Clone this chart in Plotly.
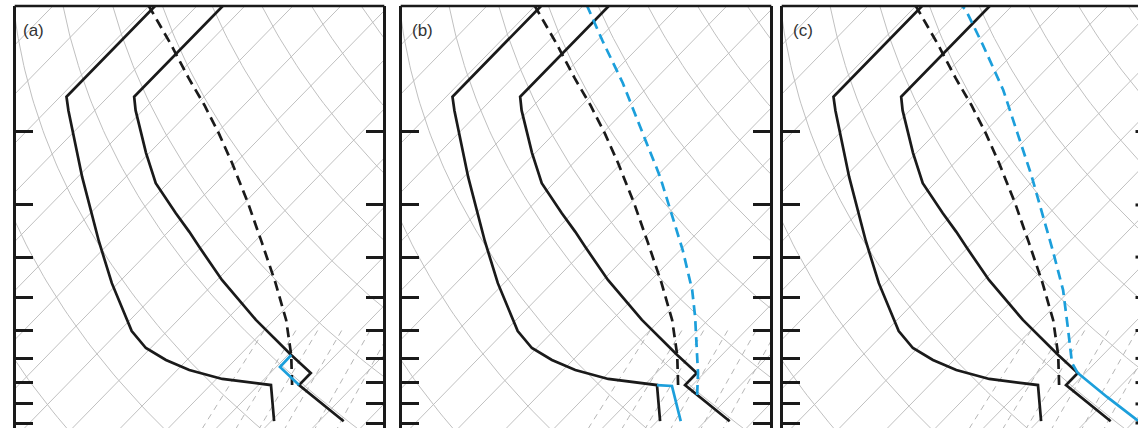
import numpy as np
import plotly.graph_objects as go

W, H = 1138, 428
SKEW = 36.86          # skew of isotherms, degC per unit ln(p)
P_TOP, P_BOT = 100.0, 1028.0

# ---------------- data ----------------
# environmental temperature (all panels)
P_TMP = [990, 811, 759, 687, 566, 454, 378, 348, 314, 266, 225, 178, 165, 100]
T_TMP = [25.1, 8.45, 8.45, 0.7, -13.8, -29.0, -40.5, -45.6, -52.2, -62.5, -70.7, -81.5, -84.6, -84.6]
# environmental dewpoint (all panels)
P_DEW = [990, 811, 784, 746, 706, 661, 602, 560, 462, 366, 257, 178, 165, 100]
T_DEW = [10.6, 2.6, -8.8, -17.5, -24.4, -31.0, -37.4, -41.2, -51.3, -62.6, -79.1, -95.5, -98.7, -98.7]
# original parcel (black dashed)
P_PCL = [811, 687, 566, 459, 370, 297, 238, 202, 173, 149, 124, 102, 100]
T_PCL = [7.0, 0.7, -7.5, -17.5, -28.2, -39.2, -50.7, -59.5, -68.2, -77.0, -87.4, -98.7, -100.0]
# (a) modified temperature near the inversion
P_A_TMP = [687, 734, 811]
T_A_TMP = [0.7, 0.8, 8.45]
# (b) moistened dewpoint and new parcel
P_B_DEW = [811, 815, 990]
T_B_DEW = [2.6, 5.9, 14.9]
P_B_PCL = [857, 759, 557, 480, 385, 321, 257, 202, 153, 121, 104, 100]
T_B_PCL = [13.0, 8.7, -3.3, -9.4, -19.5, -28.3, -39.1, -51.6, -66.0, -78.9, -87.1, -89.1]
# (c) heated boundary layer and new parcel
P_C_TMP = [759, 866, 984, 1000]
T_C_TMP = [8.45, 19.4, 30.4, 31.6]
P_C_PCL = [759, 718, 598, 480, 385, 317, 254, 202, 159, 124, 102, 100]
T_C_PCL = [8.45, 5.2, -2.35, -11.5, -21.8, -31.0, -41.6, -52.9, -64.7, -78.1, -88.9, -90.4]

# background grid values
ISOTHERMS = list(range(-150, 60, 10))        # degC
THETAS = list(range(200, 520, 20))           # K
MIXRAT = [3, 5, 7, 10, 15, 20]               # g/kg
P_TICKS = [200, 300, 400, 500, 600, 700, 800, 900, 1000]

LABELS = ["(a)", "(b)", "(c)"]

# panel geometry in pixels
PANEL_L = [16, 402, 783]
PANEL_R = [383, 770, 1150]
LABEL_X = [21, 410, 791]
PX_PER_C = 4.8
X_MIN = -42.8

BLACK = "#1a1a1a"
BLUE = "#1c9fdb"
GRID = "#c0c0c0"
LW = 2.7


def skx(T, p):
    return np.asarray(T, float) + SKEW * np.log(1000.0 / np.asarray(p, float))


fig = go.Figure()


def add(i, T, p, color, dash=None, width=LW):
    ax = "" if i == 0 else str(i + 1)
    fig.add_trace(go.Scatter(
        x=skx(T, p), y=np.asarray(p, float), mode="lines",
        line=dict(color=color, width=width, dash=dash),
        xaxis="x" + ax, yaxis="y" + ax, hoverinfo="skip", showlegend=False))


def add_raw(i, xs, ys, color, dash=None, width=1.0):
    ax = "" if i == 0 else str(i + 1)
    fig.add_trace(go.Scatter(
        x=xs, y=ys, mode="lines", line=dict(color=color, width=width, dash=dash),
        xaxis="x" + ax, yaxis="y" + ax, hoverinfo="skip", showlegend=False,
        connectgaps=False))


pp = np.geomspace(P_TOP, 1060, 80)
for i in range(3):
    # isotherms
    xs, ys = [], []
    for t in ISOTHERMS:
        xs += list(skx([t, t], [1060, P_TOP])) + [None]
        ys += [1060, P_TOP, None]
    add_raw(i, xs, ys, GRID, width=1.0)
    # dry adiabats
    xs, ys = [], []
    for th in THETAS:
        T = th * (pp / 1000.0) ** 0.286 - 273.15
        xs += list(skx(T, pp)) + [None]
        ys += list(pp) + [None]
    add_raw(i, xs, ys, GRID, width=1.0)
    # mixing-ratio lines (lower troposphere only)
    pm = np.geomspace(600, 1060, 20)
    xs, ys = [], []
    for w in MIXRAT:
        e = w * pm / (622.0 + w)
        lr = np.log(e / 6.112)
        td = 243.5 * lr / (17.67 - lr)
        xs += list(skx(td, pm)) + [None]
        ys += list(pm) + [None]
    add_raw(i, xs, ys, "#b6b6b6", dash="6px,5px", width=1.0)

for i in range(3):
    add(i, T_DEW, P_DEW, BLACK)
    add(i, T_TMP, P_TMP, BLACK)
    add(i, T_PCL, P_PCL, BLACK, dash="10px,6px")

add(0, T_A_TMP, P_A_TMP, BLUE)
add(1, T_B_DEW, P_B_DEW, BLUE)
add(1, T_B_PCL, P_B_PCL, BLUE, dash="10px,6px")
add(2, T_C_TMP, P_C_TMP, BLUE)
add(2, T_C_PCL, P_C_PCL, BLUE, dash="10px,6px")

layout = dict(
    width=W, height=H, margin=dict(l=0, r=0, t=0, b=0),
    paper_bgcolor="white", plot_bgcolor="white", showlegend=False,
)
y_top_px = 6
ydom = [0.0, 1 - y_top_px / H]
yrng = [np.log10(P_BOT), np.log10(P_TOP)]
for i in range(3):
    ax = "" if i == 0 else str(i + 1)
    L, R = PANEL_L[i], min(PANEL_R[i], W)
    xr = [X_MIN, X_MIN + (R - L) / PX_PER_C]
    layout["xaxis" + ax] = dict(
        domain=[L / W, R / W], range=xr, showgrid=False, zeroline=False,
        showticklabels=False, ticks="", showline=False, fixedrange=True,
        anchor="y" + ax)
    layout["yaxis" + ax] = dict(
        domain=ydom, type="log", range=yrng, showgrid=False, zeroline=False,
        showticklabels=False, tickvals=P_TICKS,
        ticks="inside", ticklen=17, tickwidth=3, tickcolor=BLACK,
        showline=True, linecolor=BLACK, linewidth=2.6,
        mirror=("ticks" if i < 2 else False), fixedrange=True, anchor="x" + ax)

fig.update_layout(**layout)

shapes = []
for i in range(3):
    L, R = PANEL_L[i], PANEL_R[i]
    shapes.append(dict(type="line", xref="paper", yref="paper",
                       x0=(L - 1.3) / W, x1=(R + 1.3) / W,
                       y0=1 - y_top_px / H, y1=1 - y_top_px / H,
                       line=dict(color=BLACK, width=2.6)))
# stubs of the right-hand ticks of panel (c), cut by the image edge
y_top_frac = 1 - y_top_px / H
for p in P_TICKS:
    frac = (np.log10(P_BOT) - np.log10(p)) / (np.log10(P_BOT) - np.log10(P_TOP))
    yp = frac * y_top_frac
    shapes.append(dict(type="line", xref="paper", yref="paper",
                       x0=1135.5 / W, x1=1.0, y0=yp, y1=yp,
                       line=dict(color=BLACK, width=3)))
fig.update_layout(shapes=shapes)

for i in range(3):
    fig.add_annotation(text=LABELS[i], xref="paper", yref="paper",
                       x=LABEL_X[i] / W, y=1 - 19 / H, xanchor="left", yanchor="top",
                       showarrow=False, font=dict(family="Liberation Sans", size=17, color="#333333"))

fig.write_html("out.html")
